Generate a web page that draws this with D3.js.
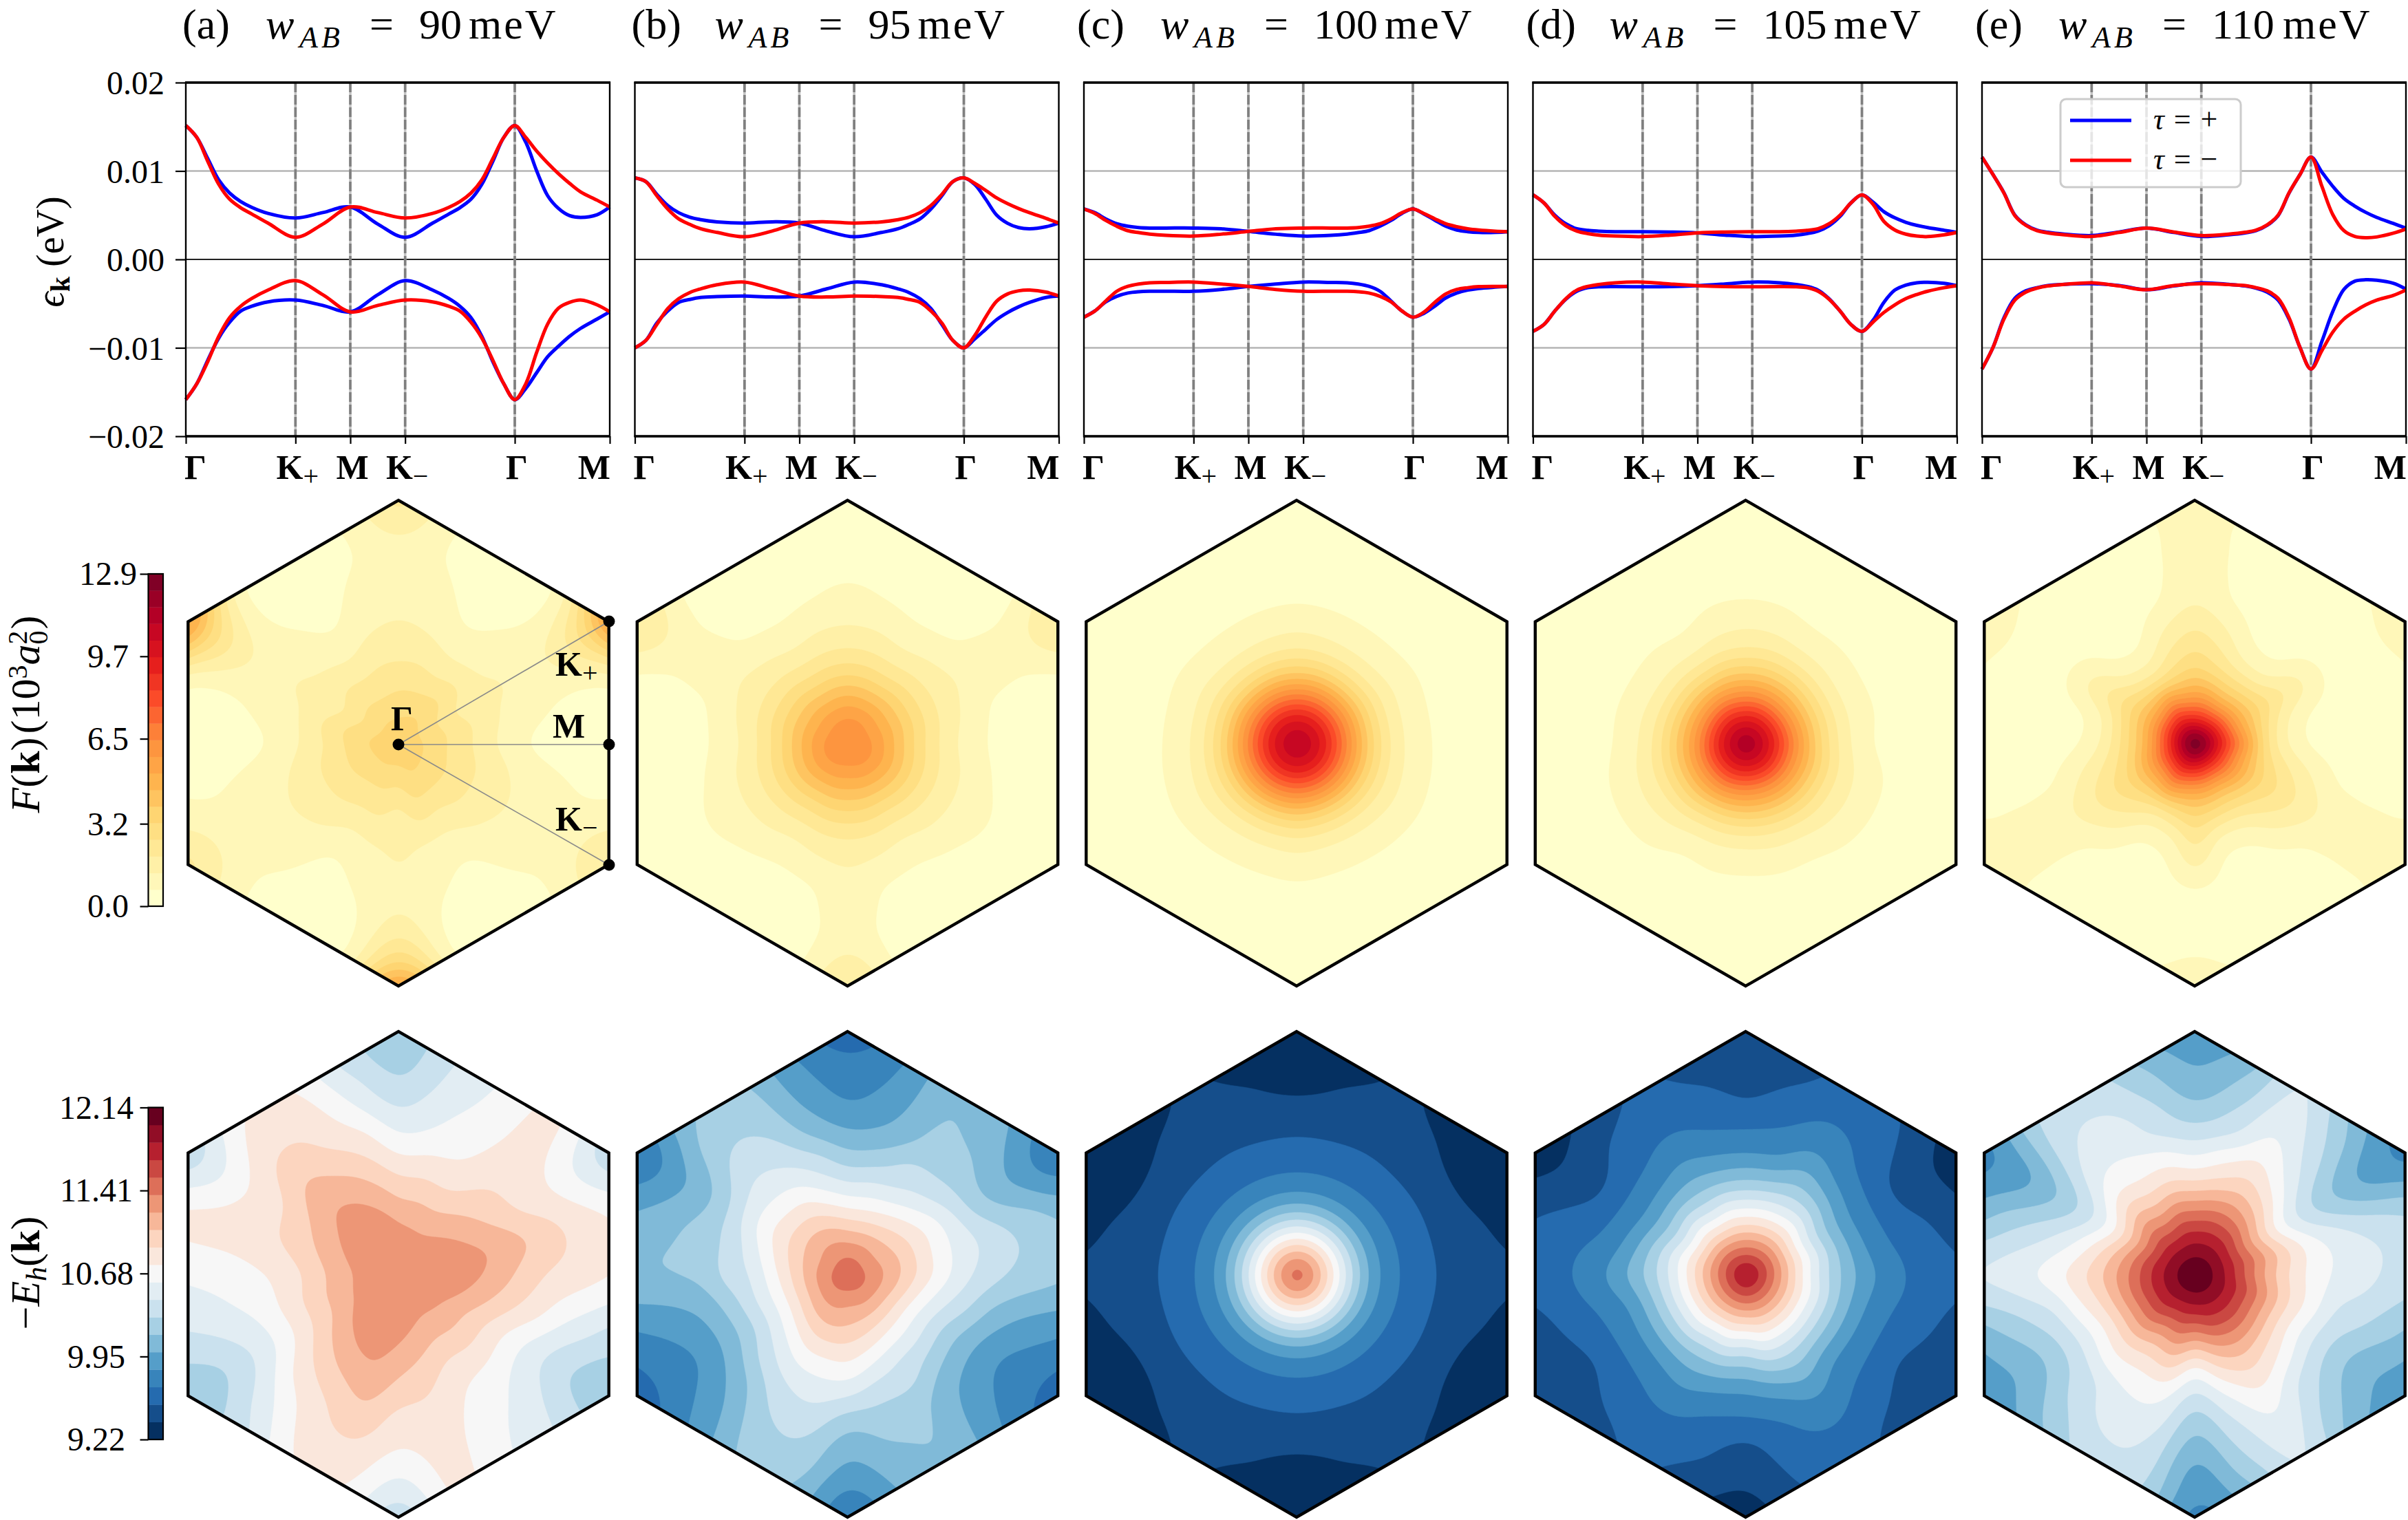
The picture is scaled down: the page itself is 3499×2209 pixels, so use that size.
<!DOCTYPE html>
<html><head><meta charset="utf-8">
<script src="https://cdnjs.cloudflare.com/ajax/libs/d3/7.8.5/d3.min.js"></script>
<style>html,body{margin:0;padding:0;background:#fff}svg{display:block}text{font-family:"Liberation Serif",serif;fill:#000}</style>
</head><body><svg id="c" width="3499" height="2209" xmlns="http://www.w3.org/2000/svg"></svg>
<script>
// ---------- band data (meV along the path, path position in units of |Gamma-K|) ----------
const pathU = [0,.1,.2,.3,.4,.5,.6,.75,1,1.25,1.5,1.75,2,2.25,2.4,2.5,2.6,2.7,2.8,2.9,3,3.1,3.2,3.3,3.4,3.5,3.6,3.75,3.866];
const pathTickU = [0,1,1.5,2,3,3.866];
const pathTickLabels = ["Γ","K","M","K","Γ","M"];
const pathTickSubs = ["","+","","−","",""];
const wAB = ["90","95","100","105","110"];
const panelTags = ["(a)","(b)","(c)","(d)","(e)"];
const energyTicks = [0.02,0.01,0,-0.01,-0.02];

const cPlusA  = [15.14,13.8,11.4,9,7.5,6.55,5.9,5.2,4.68,5.3,5.93,4.0,2.5,4.1,5.15,5.85,6.8,8.5,11.1,13.8,15.14,13.25,10,7.2,5.75,4.95,4.75,5.05,5.93];
const cMinusA = [15.14,13.8,11.1,8.5,6.8,5.85,5.15,4.1,2.5,4.0,5.93,5.3,4.68,5.2,5.9,6.55,7.5,9,11.4,13.8,15.14,13.8,12.25,10.9,9.68,8.6,7.64,6.7,5.93];
const vPlusA  = [-15.86,-14.07,-11.4,-8.9,-7.1,-5.85,-5.3,-4.8,-4.6,-5.2,-5.93,-4.0,-2.4,-3.46,-4.43,-5.3,-6.57,-8.7,-11.57,-14.07,-15.86,-14.6,-12.8,-11,-9.8,-8.7,-7.8,-6.75,-5.93];
const vMinusA = [-15.86,-14.07,-11.57,-8.7,-6.57,-5.3,-4.43,-3.46,-2.4,-4.0,-5.93,-5.2,-4.6,-4.8,-5.3,-5.85,-7.1,-8.9,-11.4,-14.07,-15.86,-14.07,-10.5,-7.3,-5.5,-4.86,-4.6,-5.14,-5.93];

const cPlusB  = [9.22,8.8,7.36,6.1,5.28,4.78,4.5,4.25,4.11,4.25,4.11,3.2,2.56,3.05,3.47,3.97,4.58,5.7,7.2,8.8,9.22,8.47,6.8,5,4.08,3.6,3.47,3.7,4.11];
const cMinusB = [9.22,8.8,7.2,5.7,4.58,3.97,3.47,3.05,2.56,3.2,4.11,4.25,4.11,4.25,4.5,4.78,5.28,6.1,7.36,8.8,9.22,8.6,7.8,6.95,6.3,5.75,5.28,4.64,4.11];
const vPlusB  = [-10,-9.17,-7.2,-5.83,-4.86,-4.53,-4.3,-4.2,-4.14,-4.25,-4.14,-3.33,-2.56,-2.86,-3.33,-3.75,-4.44,-5.55,-7.36,-9.17,-10,-9,-7.9,-6.8,-6,-5.36,-4.86,-4.3,-4.14];
const vMinusB = [-10,-9.17,-7.36,-5.55,-4.44,-3.75,-3.33,-2.86,-2.56,-3.33,-4.14,-4.25,-4.14,-4.2,-4.3,-4.53,-4.86,-5.83,-7.2,-9.17,-10,-8.6,-6.5,-4.72,-3.9,-3.55,-3.47,-3.7,-4.14];

const cPlusC  = [5.7,5.28,4.58,4.03,3.75,3.6,3.55,3.55,3.55,3.47,3.17,2.85,2.64,2.72,2.86,3.03,3.25,3.75,4.4,5.2,5.7,5.14,4.44,3.75,3.33,3.14,3.05,3.05,3.14];
const cMinusC = [5.7,5.2,4.4,3.75,3.25,3.03,2.86,2.72,2.64,2.85,3.17,3.47,3.55,3.55,3.55,3.6,3.75,4.03,4.58,5.28,5.7,5.2,4.6,4.03,3.7,3.47,3.33,3.2,3.14];
const vPlusC  = [-6.53,-5.83,-4.8,-4.17,-3.8,-3.65,-3.6,-3.6,-3.6,-3.4,-3.06,-2.78,-2.56,-2.6,-2.64,-2.78,-3.05,-3.6,-4.7,-5.83,-6.53,-6.1,-5.28,-4.36,-3.8,-3.47,-3.28,-3.14,-3.06];
const vMinusC = [-6.53,-5.83,-4.7,-3.6,-3.05,-2.78,-2.64,-2.6,-2.56,-2.78,-3.06,-3.4,-3.6,-3.6,-3.6,-3.65,-3.8,-4.17,-4.8,-5.83,-6.53,-5.97,-4.86,-3.9,-3.4,-3.2,-3.08,-3.05,-3.06];

const cPlusD  = [7.3,6.39,5,4.03,3.47,3.28,3.2,3.14,3.14,3.1,3,2.75,2.58,2.64,2.75,2.92,3.2,3.8,4.86,6.39,7.3,6.5,5.4,4.7,4.2,3.85,3.6,3.3,3.05];
const cMinusD = [7.3,6.39,4.86,3.8,3.2,2.92,2.75,2.64,2.58,2.75,3,3.1,3.14,3.14,3.2,3.28,3.47,4.03,5,6.39,7.3,6.25,4.3,3.33,2.86,2.64,2.58,2.78,3.05];
const vPlusD  = [-8.14,-7.36,-5.83,-4.5,-3.6,-3.2,-3.1,-3.08,-3.1,-3.08,-2.97,-2.78,-2.56,-2.64,-2.83,-3.05,-3.47,-4.44,-5.83,-7.36,-8.14,-6.9,-4.86,-3.47,-2.9,-2.64,-2.58,-2.7,-2.97];
const vMinusD = [-8.14,-7.36,-5.83,-4.44,-3.47,-3.05,-2.83,-2.64,-2.56,-2.78,-2.97,-3.08,-3.1,-3.08,-3.1,-3.2,-3.6,-4.5,-5.83,-7.36,-8.14,-7.1,-6,-5.14,-4.44,-3.97,-3.6,-3.2,-2.97];

const cPlusE  = [11.57,9.6,7.54,5,3.9,3.32,3.07,2.86,2.7,3.1,3.54,3.05,2.6,2.79,3,3.25,3.85,4.95,7.5,9.6,11.57,9.86,8.25,6.9,6.03,5.32,4.75,4.07,3.54];
const cMinusE = [11.57,9.6,7.5,4.95,3.85,3.25,3,2.79,2.6,3.05,3.54,3.1,2.7,2.86,3.07,3.32,3.9,5,7.54,9.6,11.57,8.25,5.04,3.25,2.6,2.46,2.54,2.96,3.43];
const vPlusE  = [-12.4,-9.96,-6.6,-4.4,-3.55,-3.2,-2.96,-2.82,-2.75,-2.95,-3.43,-3,-2.64,-2.82,-3,-3.25,-3.7,-4.6,-6.75,-9.96,-12.4,-9.25,-5.86,-3.4,-2.46,-2.3,-2.36,-2.7,-3.36];
const vMinusE = [-12.4,-9.96,-6.75,-4.6,-3.7,-3.25,-3,-2.82,-2.64,-3,-3.43,-2.95,-2.75,-2.85,-2.96,-3.2,-3.55,-4.4,-6.6,-9.96,-12.4,-10.3,-8.2,-6.75,-5.86,-5.14,-4.6,-4.07,-3.46];

const bandsPlus  = [[cPlusA,vPlusA],[cPlusB,vPlusB],[cPlusC,vPlusC],[cPlusD,vPlusD],[cPlusE,vPlusE]];
const bandsMinus = [[cMinusA,vMinusA],[cMinusB,vMinusB],[cMinusC,vMinusC],[cMinusD,vMinusD],[cMinusE,vMinusE]];

// ---------- fields: colour-level values read along rays, threefold periodic ----------
// rows: ray angle 30,45,60,75,90,105,120,135 deg; columns: radius 0,.1,...,1 of the hexagon circumradius
const berryA = [
[5.7,4.7,3.6,2.6,2.2,2.0,1.6,2.0,3.0,5.0,8.4],
[5.7,5.2,4.4,3.4,2.2,1.6,1.2,.95,.8,1.0,2],
[5.7,5.3,4.3,3.1,2.1,1.3,.8,.6,.6,.8,1.2],
[5.7,5.1,4.2,3.3,2.5,1.8,1.4,1.1,.95,1,1.3],
[5.7,5.1,4.2,3.3,2.6,2.05,1.6,1.4,1.5,2.4,3.2],
[5.7,5,4,3.2,2.5,1.8,1.4,1.1,.95,1,1.3],
[5.7,5.1,3.95,3,2,1.2,.75,.6,.6,.8,1.2],
[5.7,4.9,4,3.1,2.2,1.6,1.2,.95,.8,1,2]];
const berryB = [
[10,8.7,6.7,4.5,2.9,2.05,1.6,1.4,1.5,2.3,3],
[10,9,6.8,4.5,2.8,1.8,1,.75,.6,.6,1],
[10,9.1,6.8,4.3,2.6,1.5,.85,.6,.5,.5,.6],
[10,9.1,6.9,4.5,2.8,1.8,1.05,.7,.55,.5,.7],
[10,9.2,7,4.6,2.9,1.9,1.3,.85,.65,.6,1],
[10,9.1,6.9,4.5,2.8,1.8,1.05,.7,.55,.5,.7],
[10,9,6.7,4.3,2.6,1.5,.85,.6,.45,.45,.6],
[10,9,6.8,4.5,2.8,1.8,1,.75,.6,.6,1]];
const berryC = [
[17,14.9,10.2,5.6,2.7,1.5,.8,.5,.3,.2,.2],
[17,14.9,10.2,5.5,2.6,1.4,.75,.5,.3,.2,.2],
[17,14.9,10.2,5.5,2.6,1.4,.75,.5,.3,.2,.2],
[17,14.9,10.2,5.6,2.7,1.5,.8,.5,.3,.2,.2],
[17,14.9,10.2,5.6,2.8,1.6,.85,.5,.3,.2,.2],
[17,14.9,10.2,5.6,2.7,1.5,.8,.5,.3,.2,.2],
[17,14.9,10.2,5.5,2.6,1.4,.75,.5,.3,.2,.2],
[17,14.9,10.2,5.5,2.6,1.4,.75,.5,.3,.2,.2]];
const berryD = [
[18,14.8,9.5,5.3,2.5,1.3,.7,.4,.3,.2,.2],
[18,14.8,9.5,5.4,2.6,1.4,.7,.4,.3,.2,.2],
[18,14.8,9.6,5.5,2.7,1.4,.7,.4,.3,.2,.2],
[18,14.9,9.7,5.6,2.9,1.65,.9,.5,.3,.2,.2],
[18,14.8,9.7,5.6,2.9,1.75,.96,.5,.3,.2,.2],
[18,14.8,9.7,5.6,2.8,1.6,.9,.5,.3,.2,.2],
[18,14.9,9.8,5.3,2.5,1.2,.6,.4,.3,.2,.2],
[18,14.8,9.6,5.3,2.5,1.3,.7,.4,.3,.2,.2]];
const berryE = [
[20.5,14.5,8.2,5,3.3,2.15,.95,.7,.7,1.1,1.4],
[20.5,14.4,8,4.4,1.9,.85,.6,.5,.55,.7,1.2],
[20.5,13.8,7.6,4.2,1.9,.85,.5,.4,.4,.5,.8],
[20.5,14.2,8.3,4.7,3,1.9,1,.8,.8,.85,1],
[20.5,14.2,8.6,5.3,3.8,2.7,1.8,1.45,1.3,1.2,1.2],
[20.5,14.2,8.4,4.7,3,1.9,1,.8,.8,.85,1],
[20.5,15.2,9.3,4,1.7,.75,.5,.4,.4,.5,.8],
[20.5,14.5,8.4,4.3,1.9,.9,.6,.5,.55,.7,1.2]];
const energyA = [
[13.9,13.75,13.45,12.9,12.15,11.4,10.6,10.1,9.3,8.35,7.4],
[13.9,13.65,13.15,12.4,11.6,11,10.6,10.4,10.3,10.2,10],
[13.9,13.6,12.9,12,11,10.25,9.8,9.5,9.3,9.15,9],
[13.9,13.6,13,12.1,11.1,10.1,9.2,8.75,8.3,8,7.8],
[13.9,13.65,13.1,12.15,11.1,9.95,8.85,7.9,7.1,6.6,6.3],
[13.9,13.75,13.5,12.8,11.9,11,10.15,9.2,8.5,7.8,7.5],
[13.9,13.8,13.6,13.25,12.6,11.75,11,10.6,10.25,9.9,9.6],
[13.9,13.8,13.6,13.3,12.85,12.25,11.65,11,10.5,10,9.6]];
const energyB = [
[14.8,13.3,12.1,10.75,9.45,8,6.5,5.5,4.75,3.85,3.2],
[14.8,13.5,11.9,10.3,8.7,7.4,6.6,6.05,5.6,5.2,4.8],
[14.8,13.6,11.7,9.8,8.1,7.3,6.3,6,5.9,5.8,5.5],
[14.8,13.6,11.6,9.5,7.9,6.45,5.3,4.7,4.3,4,3.6],
[14.8,13.6,11.6,9.45,7.7,6.2,5,4.1,3.6,3.1,2.4],
[14.8,13.7,12,10,8.4,7.2,5.9,5.1,4.6,4.2,3.8],
[14.8,13.6,12.25,10.7,9.25,8.1,7.3,6.75,6.4,6.1,5.8],
[14.8,13.6,12.3,10.8,9.4,8.4,7.6,6.95,6.5,5.95,5.6]];
const energyC = [
[14.6,12,8,4.8,3.2,2.45,1.8,1.2,.7,.4,.2],
[14.6,12,8,4.8,3.2,2.45,1.8,1.3,1,.75,.55],
[14.6,12,8,4.8,3.2,2.45,1.85,1.4,1.15,1.05,1],
[14.6,12,8,4.8,3.2,2.45,1.8,1.3,1,.75,.55],
[14.6,12,8,4.8,3.2,2.45,1.8,1.2,.7,.4,.2],
[14.6,12,8,4.8,3.2,2.45,1.8,1.3,1,.75,.55],
[14.6,12,8,4.8,3.2,2.45,1.85,1.4,1.15,1.05,1],
[14.6,12,8,4.8,3.2,2.45,1.8,1.3,1,.75,.55]];
const energyD = [
[17.2,14.7,11,7.8,5.5,3.85,2.85,1.9,1.4,.95,.5],
[17.2,14.6,11.4,8.6,6.2,4.35,3.2,2.7,2.3,2,1.7],
[17.2,14.6,11.35,8.5,6.4,4.9,3.8,3.1,2.6,2.3,2],
[17.2,14.5,11.3,8.4,5.9,4.1,3.2,2.6,2.05,1.6,1.3],
[17.2,14.5,11.2,8.25,5.8,4,3,2.15,1.65,1.3,1],
[17.2,14.5,11.2,8.3,5.8,4.1,3.1,2.6,2.05,1.6,1.3],
[17.2,14.6,11,7.9,5.8,4.35,3.4,2.75,2.35,2.1,1.9],
[17.2,14.6,11.2,8.2,5.7,4,3,2.4,1.95,1.4,1]];
const energyE = [
[19,17.5,14.8,12,9.4,7.7,6.5,5.6,4.8,4.3,3.7],
[19,17.6,15.5,13,10.9,9.2,8.1,7.35,6.7,5.9,5.3],
[19,17.6,15.6,13.5,11.7,10.4,9.4,8.75,8.3,8,7.7],
[19,17.6,15.7,13.4,11.2,9.65,8,7.15,6.4,5.7,5],
[19,17.6,15.5,13.1,10.7,8.85,7.3,6.15,5.3,4.8,4.2],
[19,17.6,15.6,13.2,11,9.4,7.9,7.3,6.6,5.9,5.2],
[19,17.4,14.9,12.55,10.7,9.45,8.75,8.3,7.8,7.4,7.2],
[19,17.55,15.3,13,11,9.4,8.55,7.9,7.5,7.1,6.8]];
const berryFields = [berryA,berryB,berryC,berryD,berryE];
const energyFields = [energyA,energyB,energyC,energyD,energyE];

const berryTicks = [0,3.2,6.5,9.7,12.9];
const energyBarTicks = [9.22,9.95,10.68,11.41,12.14];
const ylOrRdStops = ["#ffffcc","#ffeda0","#fed976","#feb24c","#fd8d3c","#fc4e2a","#e31a1c","#bd0026","#800026"];
const rdBuStops = ["#053061","#2166ac","#4393c3","#92c5de","#d1e5f0","#f7f7f7","#fddbc7","#f4a582","#d6604d","#b2182b","#67001f"];

// ---------- layout ----------
const svg = d3.select("#c");
const panelLeft = i => 270 + 652.5*i;
const panelW = 616, bandTop = 120, bandBottom = 634;
const hexCx = i => 579 + 652.5*i, hexR = 353;
const rowBerryY = 1080, rowEnergyY = 1852;
const TITLE = 62, TICK = 50;

const ramp = stops => d3.scaleLinear().domain(stops.map((_,i)=>i/(stops.length-1))).range(stops).interpolate(d3.interpolateRgb);
const cmapBerry = ramp(ylOrRdStops), cmapEnergy = ramp(rdBuStops);

function addBoldTick(sel, label, sub){
  sel.append("tspan").text(label);
  if(sub) sel.append("tspan").attr("font-size",40).attr("font-weight","normal").attr("dy",9).text(sub);
}

// ---------- band panels ----------
wAB.forEach((w,i)=>{
  const L = panelLeft(i);
  const x = d3.scaleLinear().domain([0,3.866]).range([L,L+panelW]);
  const y = d3.scaleLinear().domain([-0.02,0.02]).range([bandBottom,bandTop]);
  const g = svg.append("g");
  [0.01,-0.01].forEach(v=>g.append("line").attr("x1",L).attr("x2",L+panelW).attr("y1",y(v)).attr("y2",y(v)).attr("stroke","#b5b5b5").attr("stroke-width",2.4));
  g.append("line").attr("x1",L).attr("x2",L+panelW).attr("y1",y(0)).attr("y2",y(0)).attr("stroke","#222").attr("stroke-width",2.2);
  pathTickU.slice(1,5).forEach(u=>{
    g.append("line").attr("x1",x(u)).attr("x2",x(u)).attr("y1",bandTop).attr("y2",bandBottom).attr("stroke","#c4c4c4").attr("stroke-width",3.6);
    g.append("line").attr("x1",x(u)).attr("x2",x(u)).attr("y1",bandTop).attr("y2",bandBottom).attr("stroke","#7f7f7f").attr("stroke-width",3.6).attr("stroke-dasharray","14,4");
  });
  const line = d3.line().x((d,k)=>x(pathU[k])).y(d=>y(d/1000)).curve(d3.curveCatmullRom.alpha(0.5));
  [[bandsPlus,"#0000ff"],[bandsMinus,"#ff0000"]].forEach(([b,col])=>{
    b[i].forEach(arr=>g.append("path").attr("d",line(arr)).attr("fill","none").attr("stroke",col).attr("stroke-width",5).attr("stroke-linejoin","round"));
  });
  g.append("rect").attr("x",L).attr("y",bandTop).attr("width",panelW).attr("height",bandBottom-bandTop).attr("fill","none").attr("stroke","#000").attr("stroke-width",2.4);
  [bandTop,bandBottom].forEach(v=>g.append("line").attr("x1",L-1).attr("x2",L+panelW+1).attr("y1",v).attr("y2",v).attr("stroke","#000").attr("stroke-width",3.4));
  const ax = d3.axisBottom(x).tickValues(pathTickU).tickSize(11).tickFormat("");
  const axG = g.append("g").attr("transform",`translate(0,${bandBottom})`).call(ax);
  axG.select(".domain").remove();
  axG.selectAll("line").attr("stroke","#000").attr("stroke-width",2.2);
  pathTickU.forEach((u,k)=>{
    const t = g.append("text").attr("y",696).attr("font-size",TICK).attr("font-weight","bold");
    if(k===0) t.attr("x",x(u)-2).attr("text-anchor","start");
    else if(k===5) t.attr("x",x(u)+1).attr("text-anchor","end");
    else t.attr("x",x(u)+3).attr("text-anchor","middle");
    addBoldTick(t,pathTickLabels[k],pathTickSubs[k]);
  });
  if(i===0){
    const ay = d3.axisLeft(y).tickValues(energyTicks).tickSize(15).tickPadding(0).tickFormat(v=>d3.format(".2f")(v).replace("-","−"));
    const ayG = g.append("g").attr("transform",`translate(${L},0)`).call(ay);
    ayG.select(".domain").remove();
    ayG.selectAll("line").attr("stroke","#000").attr("stroke-width",2.2);
    ayG.selectAll("text").attr("font-size",TICK-2).attr("font-family","Liberation Serif").attr("fill","#000").attr("x",-16-15).attr("dy","0.35em");
  }
  const x0 = L - 5 - (w.length===3?5:0);
  const T = svg.append("text").attr("y",55.5).attr("font-size",TITLE);
  T.append("tspan").attr("x",x0).text(panelTags[i]);
  T.append("tspan").attr("x",x0+121).attr("font-style","italic").text("w");
  T.append("tspan").attr("x",x0+170).attr("dy",13).attr("font-size",44).attr("font-style","italic").attr("letter-spacing",5).text("AB");
  T.append("tspan").attr("x",x0+272).attr("dy",-13).text("=");
  T.append("tspan").attr("x",x0+344).text(w);
  T.append("tspan").attr("x",x0+344+w.length*31+10).attr("letter-spacing",3).text("meV");
});

// y labels
const yl1 = svg.append("text").attr("transform","translate(92,366) rotate(-90)").attr("text-anchor","middle").attr("font-size",56);
yl1.append("tspan").attr("font-style","italic").text("ϵ");
yl1.append("tspan").attr("font-size",40).attr("font-weight","bold").attr("dy",9).text("k");
yl1.append("tspan").attr("dy",-9).attr("dx",14).text("(eV)");

const yl2 = svg.append("text").attr("transform","translate(57,1038) rotate(-90)").attr("text-anchor","middle").attr("font-size",60);
yl2.append("tspan").attr("font-style","italic").text("F");
yl2.append("tspan").text("(");
yl2.append("tspan").attr("font-weight","bold").text("k");
yl2.append("tspan").text(")");
yl2.append("tspan").attr("dx",5).text("(10");
yl2.append("tspan").attr("font-size",40).attr("dy",-18).text("3");
yl2.append("tspan").attr("font-style","italic").attr("dy",18).text("a");
yl2.append("tspan").attr("font-size",40).attr("dy",-18).text("2");
yl2.append("tspan").attr("font-size",40).attr("dy",30).attr("dx",-20).text("0");
yl2.append("tspan").attr("dy",-12).attr("dx",2).text(")");

const yl3 = svg.append("text").attr("transform","translate(57,1850) rotate(-90)").attr("text-anchor","middle").attr("font-size",60);
yl3.append("tspan").text("−");
yl3.append("tspan").attr("font-style","italic").text("E");
yl3.append("tspan").attr("font-style","italic").attr("font-size",42).attr("dy",10).text("h");
yl3.append("tspan").attr("dy",-10).text("(");
yl3.append("tspan").attr("font-weight","bold").text("k");
yl3.append("tspan").text(")");

// legend
(function(){
  const leg = svg.append("g");
  leg.append("rect").attr("x",2994).attr("y",144).attr("width",262).attr("height",128).attr("rx",8).attr("fill","#fff").attr("fill-opacity",0.8).attr("stroke","#cccccc").attr("stroke-width",3);
  [["#0000ff","+",175,188],["#ff0000","−",233,246]].forEach(([c,s,yy,by])=>{
    leg.append("line").attr("x1",3008).attr("x2",3097).attr("y1",yy).attr("y2",yy).attr("stroke",c).attr("stroke-width",5);
    const t = leg.append("text").attr("x",3129).attr("y",by).attr("font-size",44);
    t.append("tspan").attr("font-style","italic").text("τ");
    t.append("tspan").attr("dx",14).text("=");
    t.append("tspan").attr("dx",14).text(s);
  });
})();

// ---------- contour fields ----------
const cr = (a,b,c,d,t)=>0.5*((2*b)+(-a+c)*t+(2*a-5*b+4*c-d)*t*t+(-a+3*b-3*c+d)*t*t*t);
function radial(row,r){
  const u = Math.min(r,1)*10, i = Math.min(Math.floor(u),9), t = u-i;
  const at = k => row[k<0?-k:(k>10?10:k)];
  return cr(at(i-1),at(i),at(i+1),at(i+2),t);
}
function sample(field,dx,dy){
  const r = Math.hypot(dx,dy);
  let th = Math.atan2(dy,dx)*180/Math.PI;
  let a = (((th-30)%120)+120)%120/15;
  const i = Math.floor(a), t = a-i;
  const row = k => field[((k%8)+8)%8];
  return cr(radial(row(i-1),r),radial(row(i),r),radial(row(i+1),r),radial(row(i+2),r),t);
}
const hexPts = (cx,cy)=>d3.range(6).map(k=>{const a=(30+60*k)*Math.PI/180;return [cx+hexR*Math.cos(a),cy-hexR*Math.sin(a)];});
const step = 2, nx = Math.ceil(2*hexR*0.92/step)+2, ny = Math.ceil(2*hexR*1.06/step)+2;
const geoP = d3.geoPath();
let clipId = 0;
function drawField(field,cx,cy,levels,cmap){
  const vals = new Float64Array(nx*ny);
  for(let j=0;j<ny;j++) for(let i=0;i<nx;i++){
    const X=(i-nx/2)*step, Y=(j-ny/2)*step;
    vals[j*nx+i]=sample(field,X/hexR,-Y/hexR);
  }
  if(d3.blur2) d3.blur2({data:vals,width:nx,height:ny},4);
  const th = d3.range(1,levels);
  const cs = d3.contours().size([nx,ny]).thresholds(th)(vals);
  const id = "hx"+(clipId++);
  const pts = hexPts(cx,cy);
  const d = "M"+pts.map(p=>p.join(",")).join("L")+"Z";
  svg.append("clipPath").attr("id",id).append("path").attr("d",d);
  const g = svg.append("g").attr("clip-path",`url(#${id})`);
  const colour = k => cmap(k/(levels-1));
  g.append("path").attr("d",d).attr("fill",colour(0));
  const inner = g.append("g").attr("transform",`translate(${cx-nx/2*step},${cy-ny/2*step}) scale(${step})`);
  cs.forEach(c=>{ inner.append("path").attr("d",geoP(c)).attr("fill",colour(c.value)).attr("stroke",colour(c.value)).attr("stroke-width",0.25); });
  svg.append("path").attr("d",d).attr("fill","none").attr("stroke","#000").attr("stroke-width",4.4).attr("stroke-linejoin","miter");
}
berryFields.forEach((f,i)=>drawField(f,hexCx(i),rowBerryY,20,cmapBerry));
energyFields.forEach((f,i)=>drawField(f,hexCx(i),rowEnergyY,19,cmapEnergy));

// ---------- colour bars ----------
function colorbar(domain,top,bottom,levels,cmap,ticks,fmt,labelX){
  const s = d3.scaleLinear().domain(domain).range([bottom,top]);
  const stepV = (domain[1]-domain[0])/levels;
  const g = svg.append("g");
  d3.range(levels).forEach(k=>{
    g.append("rect").attr("x",215.5).attr("width",21.5).attr("y",s(domain[0]+(k+1)*stepV)).attr("height",s(domain[0]+k*stepV)-s(domain[0]+(k+1)*stepV)+0.4).attr("fill",cmap(k/(levels-1)));
  });
  g.append("rect").attr("x",215.5).attr("width",21.5).attr("y",top).attr("height",bottom-top).attr("fill","none").attr("stroke","#000").attr("stroke-width",2.2);
  const a = d3.axisLeft(s).tickValues(ticks).tickSize(12).tickFormat(fmt);
  const ag = g.append("g").attr("transform","translate(215.5,0)").call(a);
  ag.select(".domain").remove();
  ag.selectAll("line").attr("stroke","#000").attr("stroke-width",2.2);
  ag.selectAll("text").attr("font-size",48).attr("font-family","Liberation Serif").attr("fill","#000").attr("text-anchor","middle").attr("x",labelX-215.5).attr("dy","0.33em");
}
colorbar([0,12.9],834,1317,20,cmapBerry,berryTicks,d3.format(".1f"),157);
colorbar([9.22,12.14],1609.5,2092,19,cmapEnergy,energyBarTicks,d3.format(".2f"),140);

// ---------- annotation in the first Berry panel ----------
(function(){
  const gamma=[579,1082], pts=[[885,903],[885,1082],[885,1257]];
  pts.forEach(p=>svg.append("line").attr("x1",gamma[0]).attr("y1",gamma[1]).attr("x2",p[0]).attr("y2",p[1]).attr("stroke","#8a8a8a").attr("stroke-width",1.6));
  [gamma,...pts].forEach(p=>svg.append("circle").attr("cx",p[0]).attr("cy",p[1]).attr("r",8.5).attr("fill","#000"));
  [["Γ","",568,1061],["K","+",807,982],["M","",803,1072],["K","−",807,1207]].forEach(([a,b,xx,yy])=>{
    const t = svg.append("text").attr("x",xx).attr("y",yy).attr("font-size",TICK).attr("font-weight","bold");
    addBoldTick(t,a,b);
  });
})();
</script></body></html>
